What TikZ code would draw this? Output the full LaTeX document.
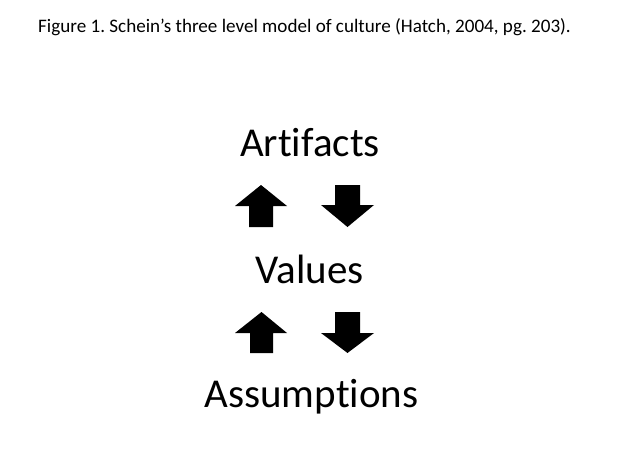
\documentclass[tikz,border=0pt]{standalone}
\usepackage{fontspec}
\setmainfont[Ligatures=CommonOff]{Carlito}
\frenchspacing
\begin{document}
\begin{tikzpicture}[x=1pt,y=-1pt,
  title/.style={anchor=base west,inner sep=0pt,font=\fontsize{19.1}{23}\selectfont},
  level/.style={anchor=base,inner sep=0pt,font=\fontsize{41}{49}\selectfont},
  blockarrow/.style={fill=black,draw=none}]
\useasboundingbox (0,0) rectangle (624,468);
\node[title] (t) at (38,33) {Figure 1. Schein’s three level model of culture (Hatch, 2004, pg. 203).};
\node[level] (art) at (310,157) {Artifacts};
\node[level] (val) at (309.5,283) {Values};
\node[level] (ass) at (311.5,407) {Assumptions};
% upper pair
\fill[blockarrow] (261,185) -- (287,206) -- (273,206) -- (273,227) -- (249,227) -- (249,206) -- (235,206) -- cycle;
\fill[blockarrow] (335,185) -- (360,185) -- (360,205) -- (374,205) -- (347.5,227) -- (321,205) -- (335,205) -- cycle;
% lower pair
\fill[blockarrow] (261.5,312) -- (287,333) -- (273,333) -- (273,353) -- (250,353) -- (250,333) -- (235,333) -- cycle;
\fill[blockarrow] (335,312) -- (360,312) -- (360,333) -- (374,333) -- (347.5,353) -- (321,333) -- (335,333) -- cycle;
\end{tikzpicture}
\end{document}
